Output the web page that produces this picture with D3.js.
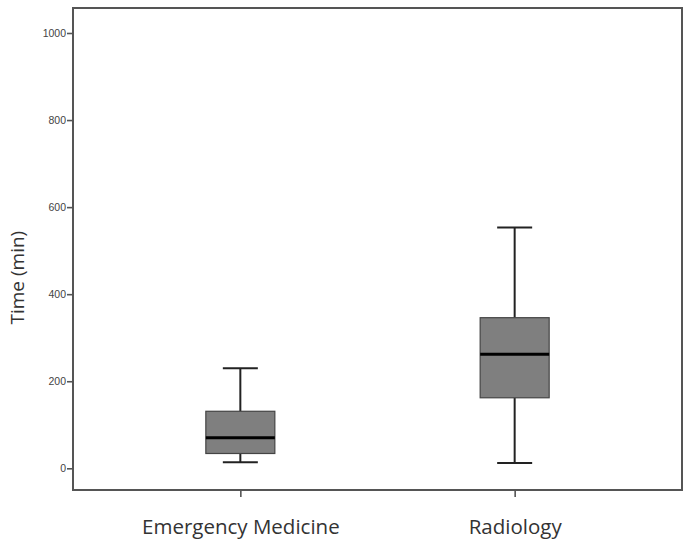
<!DOCTYPE html>
<html>
<head>
<meta charset="utf-8">
<script src="https://cdn.jsdelivr.net/npm/d3@7"></script>
<style>
  html, body { margin: 0; padding: 0; background: #fff; }
  svg { display: block; }
</style>
</head>
<body>
<svg id="chart" width="691" height="549"></svg>
<script>
// Data
const categories = ["Emergency Medicine", "Radiology"];
const whiskerLow = [14, 12];
const q1 = [34, 162];
const median = [70, 262];
const q3 = [131, 346];
const whiskerHigh = [230, 553];
const yTicks = [0, 200, 400, 600, 800, 1000];
const yLabel = "Time (min)";

const W = 691, H = 549;
const frame = { left: 73, top: 8, right: 682, bottom: 490 };

const svg = d3.select("#chart");

const y = d3.scaleLinear().domain([0, 1000]).range([468.3, 33]);
const x = d3.scalePoint().domain(categories).range([frame.left, frame.right]).padding(0.61);

const boxW = 69, capW = 35;

// Frame
svg.append("rect")
  .attr("x", frame.left).attr("y", frame.top)
  .attr("width", frame.right - frame.left).attr("height", frame.bottom - frame.top)
  .attr("fill", "#fff").attr("stroke", "#555").attr("stroke-width", 2);

// Y axis
const yAxis = d3.axisLeft(y).tickValues(yTicks).tickFormat(d3.format("d")).tickSize(6).tickPadding(1);
const gy = svg.append("g").attr("transform", `translate(${frame.left},0)`).call(yAxis);
gy.select(".domain").remove();
gy.selectAll(".tick line").attr("stroke", "#555").attr("stroke-width", 1.6);
gy.selectAll(".tick text")
  .attr("fill", "#444")
  .style("font-family", "'Liberation Sans', Arial, sans-serif")
  .style("font-size", "10.5px");

// X axis
const xAxis = d3.axisBottom(x).tickSize(7).tickPadding(22);
const gx = svg.append("g").attr("transform", `translate(0,${frame.bottom})`).call(xAxis);
gx.select(".domain").remove();
gx.selectAll(".tick line").attr("stroke", "#555").attr("stroke-width", 1.6);
gx.selectAll(".tick text")
  .attr("fill", "#333")
  .style("font-family", "'Open Sans', 'Noto Sans', sans-serif")
  .style("font-size", "20.5px");

// Y label
svg.append("text")
  .attr("transform", `translate(24,${(y(0)+y(1000))/2 + 27}) rotate(-90)`)
  .attr("text-anchor", "middle")
  .attr("fill", "#333")
  .style("font-family", "'Open Sans', 'Noto Sans', sans-serif")
  .style("font-size", "19px")
  .text(yLabel);

// Boxes
const data = categories.map((c, i) => ({
  c, lo: whiskerLow[i], q1: q1[i], med: median[i], q3: q3[i], hi: whiskerHigh[i]
}));

const g = svg.append("g");
const b = g.selectAll("g.box").data(data).join("g").attr("class", "box");

// whisker stems
b.append("line")
  .attr("x1", d => x(d.c)).attr("x2", d => x(d.c))
  .attr("y1", d => y(d.hi)).attr("y2", d => y(d.q3))
  .attr("stroke", "#222").attr("stroke-width", 2);
b.append("line")
  .attr("x1", d => x(d.c)).attr("x2", d => x(d.c))
  .attr("y1", d => y(d.q1)).attr("y2", d => y(d.lo))
  .attr("stroke", "#222").attr("stroke-width", 2);
// caps
b.append("line")
  .attr("x1", d => x(d.c) - capW/2).attr("x2", d => x(d.c) + capW/2)
  .attr("y1", d => y(d.hi)).attr("y2", d => y(d.hi))
  .attr("stroke", "#222").attr("stroke-width", 2);
b.append("line")
  .attr("x1", d => x(d.c) - capW/2).attr("x2", d => x(d.c) + capW/2)
  .attr("y1", d => y(d.lo)).attr("y2", d => y(d.lo))
  .attr("stroke", "#222").attr("stroke-width", 2);
// box
b.append("rect")
  .attr("x", d => x(d.c) - boxW/2).attr("width", boxW)
  .attr("y", d => y(d.q3)).attr("height", d => y(d.q1) - y(d.q3))
  .attr("fill", "#7f7f7f").attr("stroke", "#444").attr("stroke-width", 1.2);
// median
b.append("line")
  .attr("x1", d => x(d.c) - boxW/2).attr("x2", d => x(d.c) + boxW/2)
  .attr("y1", d => y(d.med)).attr("y2", d => y(d.med))
  .attr("stroke", "#000").attr("stroke-width", 3);
</script>
</body>
</html>
